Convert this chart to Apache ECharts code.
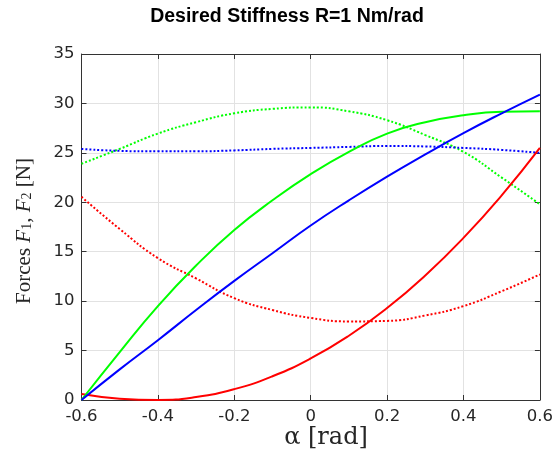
<!DOCTYPE html>
<html>
<head>
<meta charset="utf-8">
<script src="https://cdn.jsdelivr.net/npm/echarts@6/dist/echarts.min.js"></script>
<style>
html,body{margin:0;padding:0;background:#fff;}
#chart{width:556px;height:452px;}
</style>
</head>
<body>
<div id="chart"></div>
<script>
// alpha values (rad)
var alpha = [-0.6, -0.5, -0.4, -0.3, -0.2, -0.1, 0, 0.1, 0.2, 0.3, 0.4, 0.5, 0.6];
// solid lines
var redSolid   = [0.6, 0.13, 0.0, 0.3, 1.1, 2.4, 4.2, 6.5, 9.3, 12.6, 16.4, 20.7, 25.5];
var greenSolid = [0, 4.85, 9.5, 13.6, 17.2, 20.2, 22.85, 25.1, 26.95, 28.1, 28.8, 29.15, 29.2];
var blueSolid  = [0, 3.1, 6.05, 9.1, 12.05, 14.85, 17.65, 20.2, 22.6, 24.85, 27.0, 29.0, 30.9];
// dotted lines
var redDot   = [20.55, 17.3, 14.35, 12.3, 10.3, 9.1, 8.3, 7.95, 8.0, 8.55, 9.5, 11.0, 12.7];
var greenDot = [23.9, 25.4, 26.95, 28.1, 29.0, 29.45, 29.6, 29.2, 28.3, 26.8, 25.1, 22.5, 19.8];
var blueDot  = [25.4, 25.2, 25.15, 25.15, 25.25, 25.4, 25.5, 25.6, 25.7, 25.65, 25.5, 25.3, 25.0];
var xTicks = [-0.6, -0.4, -0.2, 0, 0.2, 0.4, 0.6];
var yTicks = [0, 5, 10, 15, 20, 25, 30, 35];

var titleText = 'Desired Stiffness R=1 Nm/rad';

function pairs(ys){ return alpha.map(function(a,i){ return [a, ys[i]]; }); }

function mk(name, ys, color, dotted){
  return {
    name: name, type: 'line', data: pairs(ys), showSymbol: false, symbol: 'none',
    smooth: 0.5, xAxisIndex: 0, yAxisIndex: 0, clip: true,
    lineStyle: { color: color, width: 2, type: dotted ? [2, 2] : 'solid', cap: 'butt' },
    z: dotted ? 3 : 4
  };
}

var axisColor = '#333333';
var gridColor = '#e2e2e2';
var tickFont = { color: '#262626', fontSize: 16.5, fontFamily: 'DejaVu Sans' };

var chart = echarts.init(document.getElementById('chart'), null, {renderer: 'canvas'});
chart.setOption({
  animation: false,
  backgroundColor: '#ffffff',
  grid: { left: 81.5, right: 15, top: 54, bottom: 52, containLabel: false },
  xAxis: [{
    type: 'value', min: -0.6, max: 0.6, interval: 0.2, position: 'bottom',
    axisLine: { show: true, onZero: false, lineStyle: { color: axisColor, width: 1 } },
    axisTick: { show: true, inside: true, length: 5, lineStyle: { color: axisColor } },
    splitLine: { show: true, lineStyle: { color: gridColor, width: 1 } },
    axisLabel: Object.assign({ margin: 8, formatter: function(v){ return String(+v.toFixed(1)); } }, tickFont)
  }, {
    type: 'value', min: -0.6, max: 0.6, interval: 0.2, position: 'top',
    axisLine: { show: true, onZero: false, lineStyle: { color: axisColor, width: 1 } },
    axisTick: { show: true, inside: true, length: 5, lineStyle: { color: axisColor } },
    splitLine: { show: false }, axisLabel: { show: false }
  }],
  yAxis: [{
    type: 'value', min: 0, max: 35, interval: 5, position: 'left',
    axisLine: { show: true, onZero: false, lineStyle: { color: axisColor, width: 1 } },
    axisTick: { show: true, inside: true, length: 5, lineStyle: { color: axisColor } },
    splitLine: { show: true, lineStyle: { color: gridColor, width: 1 } },
    axisLabel: Object.assign({ margin: 7 }, tickFont)
  }, {
    type: 'value', min: 0, max: 35, interval: 5, position: 'right',
    axisLine: { show: true, onZero: false, lineStyle: { color: axisColor, width: 1 } },
    axisTick: { show: true, inside: true, length: 5, lineStyle: { color: axisColor } },
    splitLine: { show: false }, axisLabel: { show: false }
  }],
  graphic: [{
    type: 'text', x: 287, y: 17, z: 10,
    style: { text: titleText, font: 'bold 19.5px "Liberation Sans"', fill: '#000', align: 'center', verticalAlign: 'middle' }
  }, {
    type: 'text', x: 326, y: 438, z: 10,
    style: { text: 'α [rad]', font: '24px "DejaVu Serif"', fill: '#262626', align: 'center', verticalAlign: 'middle' }
  }, {
    type: 'text', x: 24, y: 231, rotation: Math.PI / 2, z: 10,
    style: {
      text: '{n|Forces }{i|F}{s|1}{n|, }{i|F}{s|2}{n| [N]}',
      align: 'center', verticalAlign: 'middle', fill: '#262626',
      rich: {
        n: { fontFamily: 'Liberation Serif', fontSize: 21, fill: '#262626', verticalAlign: 'middle' },
        i: { fontFamily: 'Liberation Serif', fontStyle: 'italic', fontSize: 21, fill: '#262626', verticalAlign: 'middle' },
        s: { fontFamily: 'Liberation Serif', fontSize: 14, fill: '#262626', verticalAlign: 'bottom' }
      }
    }
  }],
  series: [
    mk('F1 dotted', redDot, '#ff0000', true),
    mk('F2 dotted', greenDot, '#00ff00', true),
    mk('F dotted', blueDot, '#0000ff', true),
    mk('F1', redSolid, '#ff0000', false),
    mk('F2', greenSolid, '#00ff00', false),
    mk('F', blueSolid, '#0000ff', false)
  ]
});
</script>
</body>
</html>
